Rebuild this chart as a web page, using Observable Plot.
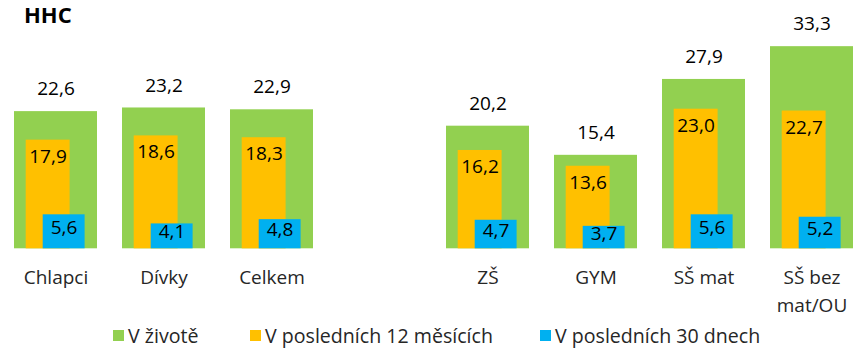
<!DOCTYPE html>
<html>
<head>
<meta charset="utf-8">
<script src="https://cdn.jsdelivr.net/npm/d3@7"></script>
<script src="https://cdn.jsdelivr.net/npm/@observablehq/plot@0.6"></script>
<style>
  html, body { margin: 0; padding: 0; background: #fff; }
  #wrap { position: relative; width: 860px; height: 354px; font-family: "Open Sans", sans-serif; }
  #title { position: absolute; left: 24px; top: 3px; font-size: 22px; line-height: 22px; font-weight: 700; color: #000; }
  #chart { position: absolute; left: 0; top: 0; }
  .leg { position: absolute; top: 326px; height: 19px; display: flex; align-items: center; font-size: 19.6px; line-height: 19px; color: #262626; white-space: nowrap; }
  .sw { width: 11px; height: 11px; margin-right: 4px; display: inline-block; }
</style>
</head>
<body>
<div id="wrap">
  <div id="chart"></div>
  <div id="title">HHC</div>
  <div id="legend"></div>
</div>
<script>
const categories = ["Chlapci", "Dívky", "Celkem", "ZŠ", "GYM", "SŠ mat", "SŠ bez mat/OU"];
const tickLabels = ["Chlapci", "Dívky", "Celkem", "ZŠ", "GYM", "SŠ mat", "SŠ bez\nmat/OU"];
const lifetime = [22.6, 23.2, 22.9, 20.2, 15.4, 27.9, 33.3];
const last12m = [17.9, 18.6, 18.3, 16.2, 13.6, 23.0, 22.7];
const last30d = [5.6, 4.1, 4.8, 4.7, 3.7, 5.6, 5.2];
const seriesNames = ["V životě", "V posledních 12 měsících", "V posledních 30 dnech"];
const seriesColors = ["#92D050", "#FFC000", "#00B0F0"];

const rows = categories.map((c, i) => ({cat: c, label: tickLabels[i], life: lifetime[i], m12: last12m[i], d30: last30d[i]}));
const xDomain = [...categories.slice(0, 3), " ", ...categories.slice(3)];
const fmt = v => d3.format(".1f")(v).replace(".", ",");

const chart = Plot.plot({
  width: 860,
  height: 320,
  marginTop: 0, marginRight: 0, marginBottom: 0, marginLeft: 0,
  x: {domain: xDomain, range: [1.46, 865.4], paddingInner: 0.2318, paddingOuter: 0.1, axis: null},
  y: {domain: [0, 40], range: [248.3, 5.5], axis: null},
  style: {fontFamily: "'Open Sans', sans-serif", fontSize: "19px", background: "transparent", overflow: "visible"},
  marks: [
    Plot.barY(rows, {x: "cat", y: "life", fill: seriesColors[0]}),
    Plot.barY(rows, {x: "cat", y: "m12", fill: seriesColors[1], insetLeft: 11.7, insetRight: 27.4}),
    Plot.barY(rows, {x: "cat", y: "d30", fill: seriesColors[2], insetLeft: 28.7, insetRight: 12.4}),
    Plot.text(rows, {x: "cat", y: "life", text: d => fmt(d.life), dy: -22.5, fill: "#000", fontSize: 19}),
    Plot.text(rows, {x: "cat", y: "m12", text: d => fmt(d.m12), dx: -8, dy: 16.5, fill: "#000", fontSize: 19}),
    Plot.text(rows, {x: "cat", y: d => d.d30 / 2, text: d => fmt(d.d30), dx: 8, dy: -4, fill: "#000", fontSize: 19}),
    Plot.text(rows, {x: "cat", y: d => 0, text: "label", lineAnchor: "top", lineHeight: 1.45, dy: 16.1, fill: "#262626", fontSize: 19})
  ]
});
document.getElementById("chart").appendChild(chart);

const legendLefts = [113, 250, 540];
const legend = document.getElementById("legend");
seriesNames.forEach((name, i) => {
  const item = document.createElement("div");
  item.className = "leg";
  item.style.left = legendLefts[i] + "px";
  const sw = document.createElement("span");
  sw.className = "sw";
  sw.style.background = seriesColors[i];
  item.appendChild(sw);
  item.appendChild(document.createTextNode(name));
  legend.appendChild(item);
});
</script>
</body>
</html>
